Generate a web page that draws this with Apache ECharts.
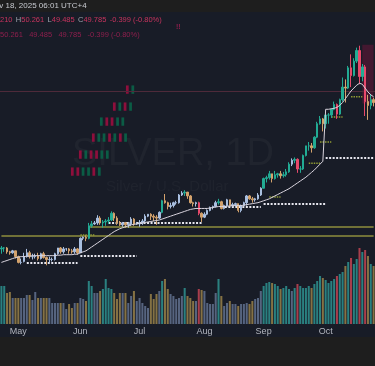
<!DOCTYPE html>
<html><head><meta charset="utf-8">
<script src="https://cdn.jsdelivr.net/npm/echarts@6/dist/echarts.min.js"></script>
<style>html,body{margin:0;padding:0;background:#1e1e1e;}#c{width:375px;height:366px;}</style>
</head><body><div id="c"></div><script>
// ---- data (XAGUSD daily) ----
const startDate = '2025-04-23';
const barCount = 133;
const opens = [33.4,33.5,33.5,33.1,33.0,33.2,32.6,32.0,32.1,32.6,33.0,32.6,32.6,32.7,32.4,32.9,32.5,32.3,32.3,32.3,32.9,33.5,33.1,33.4,33.4,33.2,33.1,33.4,
33.0,34.5,34.6,34.5,35.8,36.0,36.1,36.6,36.1,36.2,36.3,36.4,37.1,36.6,36.1,35.9,36.1,35.9,36.0,36.5,36.0,
36.0,36.1,36.3,36.8,37.0,36.8,36.7,36.6,37.2,38.4,38.2,37.8,37.9,38.2,38.2,39.0,39.2,39.3,38.9,38.2,38.1,38.2,37.1,
36.7,37.0,37.4,37.7,37.8,38.2,38.3,37.6,37.9,38.5,37.9,38.0,38.1,37.4,37.9,38.2,38.9,38.6,38.5,38.6,39.0,
39.7,40.7,40.8,41.2,40.7,41.1,41.2,41.0,41.1,41.4,42.2,42.6,42.7,41.7,41.7,43.1,44.1,44.1,43.9,45.0,46.4,46.9,
46.4,47.3,47.3,47.9,48.4,47.4,48.9,50.2,50.1,52.2,51.4,52.9,54.0,51.3,52.3,48.7,48.3,48.9];
const highs = [33.7,33.6,33.6,33.2,33.3,33.2,32.7,32.4,33.0,33.4,33.2,32.9,32.9,33.0,33.0,33.1,32.6,32.6,32.5,33.0,33.5,33.6,33.6,33.5,33.5,33.4,33.6,33.5,
34.6,34.7,34.8,36.1,36.3,36.3,36.9,36.8,36.4,36.5,36.7,37.3,37.2,36.8,36.3,36.2,36.2,36.2,36.7,36.6,36.2,
36.4,36.5,37.0,37.0,37.1,37.0,36.9,37.3,38.5,39.1,38.3,38.2,38.3,38.4,39.1,39.4,39.5,39.3,39.0,38.3,38.3,38.3,37.2,
37.2,37.5,37.8,37.9,38.4,38.6,38.4,38.0,38.6,38.5,38.2,38.2,38.1,38.0,38.3,39.0,39.0,38.8,38.7,39.2,39.8,
40.8,41.0,41.5,41.2,41.5,41.3,41.5,41.4,41.7,42.4,42.8,42.9,42.8,42.0,43.2,44.1,44.5,44.4,45.1,46.6,47.2,47.0,
47.3,47.5,48.0,48.7,48.5,49.0,51.2,51.0,52.4,53.6,53.2,54.3,54.5,52.6,52.5,49.4,49.5,49.1];
const lows = [32.9,33.1,32.9,32.8,32.9,32.4,31.9,31.8,32.0,32.5,32.4,32.3,32.4,32.2,32.3,32.4,31.7,31.9,32.1,32.2,32.8,32.9,32.9,33.2,32.9,32.9,32.9,32.8,
33.0,34.3,34.2,34.4,35.6,35.9,35.9,35.9,35.6,35.8,36.0,36.3,36.3,35.9,35.8,35.7,35.6,35.6,35.8,35.8,35.9,
35.7,35.9,36.2,36.7,36.4,36.3,35.9,36.5,37.1,38.1,37.5,37.6,37.7,38.0,38.1,38.9,38.9,38.6,38.1,37.8,37.8,36.9,36.2,
36.6,36.9,37.3,37.5,37.7,38.0,37.5,37.5,37.8,37.8,37.8,37.8,37.2,37.2,37.8,37.9,38.5,38.2,38.3,38.5,38.9,
39.7,40.3,40.6,40.3,40.6,40.8,40.7,40.8,40.9,41.3,42.0,42.3,41.3,41.3,41.6,43.0,43.6,43.4,43.8,44.9,46.3,45.6,
45.9,46.4,47.0,47.8,46.9,47.3,48.7,48.6,50.0,50.2,51.3,52.7,50.5,50.8,47.2,46.8,47.9,48.2];
const closes = [33.5,33.5,33.1,33.0,33.2,32.6,32.0,32.0,32.6,33.0,32.6,32.6,32.7,32.4,32.9,32.5,32.3,32.3,32.3,32.9,33.5,33.1,33.4,33.4,33.2,33.1,33.4,33.0,
34.5,34.6,34.5,35.8,36.0,36.1,36.6,36.1,36.2,36.3,36.4,37.1,36.6,36.1,35.9,36.1,35.9,36.0,36.5,36.0,36.0,
36.1,36.3,36.8,37.0,36.8,36.7,36.6,37.2,38.4,38.2,37.8,37.9,38.2,38.2,39.0,39.2,39.3,38.9,38.2,38.1,38.2,37.1,36.7,
37.0,37.4,37.7,37.8,38.2,38.3,37.6,37.9,38.5,37.9,38.0,38.1,37.4,37.9,38.2,38.9,38.6,38.5,38.6,39.0,39.7,
40.7,40.8,41.2,40.7,41.1,41.2,41.0,41.1,41.4,42.2,42.6,42.7,41.7,41.7,43.1,44.1,44.1,43.9,45.0,46.4,46.9,46.4,
47.3,47.3,47.9,48.4,47.4,48.9,50.2,50.1,52.2,51.4,52.9,54.0,51.3,52.3,48.7,48.3,48.9,48.6];
const volumes = [38,38,31,32,26,26,26,26,26,29,29,24,32,26,26,26,26,26,21,21,21,21,21,15,20,16,21,21,
26,25,23,43,38,31,31,33,35,45,36,35,31,25,31,31,31,21,28,33,23,
26,21,18,16,30,25,30,33,43,45,35,30,28,25,26,28,36,28,26,23,23,35,34,
33,21,20,20,31,45,28,18,21,23,20,20,18,20,20,21,20,23,25,26,33,
38,41,42,41,40,38,35,36,38,35,33,36,40,38,36,36,38,36,40,43,48,46,
44,41,43,45,48,50,52,58,62,66,60,65,76,72,74,68,60,58];
const trailLine = [32.0,32.1,32.2,32.3,32.4,32.5,32.55,32.6,32.6,32.65,32.65,32.7,32.7,32.7,32.7,32.7,32.7,32.7,32.7,32.7,32.75,32.75,32.8,32.8,32.8,32.8,32.85,32.85,
33.0,33.1,33.2,33.4,33.6,33.8,34.0,34.2,34.4,34.6,34.8,35.0,35.2,35.35,35.5,35.6,35.7,35.8,35.9,35.95,36.0,
36.05,36.1,36.15,36.2,36.25,36.3,36.35,36.4,36.5,36.6,36.7,36.8,36.9,37.0,37.1,37.2,37.3,37.4,37.5,37.55,37.6,37.6,37.6,
37.6,37.6,37.65,37.7,37.75,37.8,37.8,37.8,37.85,37.85,37.9,37.9,37.9,37.9,37.95,38.0,38.05,38.1,38.15,38.2,38.3,
38.4,38.5,38.6,38.75,38.9,39.05,39.2,39.35,39.5,39.65,39.85,40.05,40.25,40.45,40.65,40.85,41.1,41.35,41.6,41.9,42.2,42.5,
47.9,47.9,47.95,48.0,48.1,48.3,48.6,49.0,49.4,49.8,50.1,50.4,50.6,50.5,50.1,49.7,49.4,49.2];
// dotted support levels: [startIndex, endIndex, price]
const dottedLevels = [[9,27,31.94],[28,48,32.67],[38,71,36.09],[78,92,37.75],[93,115,38.07],[115,132,42.84]];
// small olive pivot tags: [startIndex, endIndex, price]
const pivotTags = [[28,33,34.85],[95,99,38.8],[109,113,42.3],[113,117,44.5],[117,121,47.1],[124,128,49.2]];
// solid horizontal levels: [startIndex, price]
const solidLevels = [[31,35.68],[0,34.74]];
const lastPrice = 49.785;
const zoneBox = [128,132,48.5,54.6];
const monthNames = ['Jan','Feb','Mar','Apr','May','Jun','Jul','Aug','Sep','Oct','Nov','Dec'];

// ---- categories (weekdays) ----
const dates = [];
{ let d = new Date(startDate + 'T00:00:00Z');
  while (dates.length < barCount) { const w = d.getUTCDay(); if (w !== 0 && w !== 6) dates.push(d.toISOString().slice(0,10)); d = new Date(d.getTime() + 86400000); } }
const isMonthStart = i => i > 0 && dates[i].slice(5,7) !== dates[i-1].slice(5,7);

function candleColor(i){
  const up = closes[i] >= opens[i];
  if (up) return volumes[i] >= 35 ? '#22ab94' : '#a9bfe0';
  return (opens[i]-closes[i]) > 0.8 ? '#e8496b' : '#d3a26c';
}
function volColor(i){
  const up = closes[i] >= opens[i];
  if (up) return volumes[i] >= 35 ? '#2a8080' : '#56647f';
  return (opens[i]-closes[i]) > 0.8 ? '#a83e4c' : '#857244';
}
const candleData = dates.map((d,i)=>({value:[opens[i],closes[i],lows[i],highs[i]], itemStyle:{color:candleColor(i),color0:candleColor(i),borderColor:candleColor(i),borderColor0:candleColor(i)}}));
const volData = dates.map((d,i)=>({value:volumes[i], itemStyle:{color:volColor(i)}}));

const segSeries = (arr, style, z) => arr.map(l=>({type:'line',xAxisIndex:0,yAxisIndex:0,symbol:'none',silent:true,z:z,
  data:[[l[0],l[2]],[l[1],l[2]]], lineStyle:style}));
const solidSeries = solidLevels.map(l=>({type:'line',xAxisIndex:0,yAxisIndex:0,symbol:'none',silent:true,z:3,
  data:[[l[0],l[1]],[barCount-1,l[1]]], lineStyle:{color:'#8e8e3e',width:1.5}}));

// decorative red/green glyph rows (indicator overlay)
const R = '#8e0f3c', G = '#0b5c45';
const glyphRow = (x,y,pattern) => ({type:'text',left:x,top:y,z:-4,style:{rich:{r:{fill:R,font:'7px "DejaVu Sans"'},g:{fill:G,font:'7px "DejaVu Sans"'}},
  text: pattern.split('').map(c=>c==='r'?'{r|▌}':'{g|▌}').join('')}});

const chart = echarts.init(document.getElementById('c'));
chart.setOption({
  backgroundColor:'#1e1e1e',
  animation:false,
  graphic:[
    {type:'rect',shape:{x:0,y:12,width:375,height:325},style:{fill:'#181c27'},z:-10},
    {type:'text',left:-11,top:2,style:{text:'Nov 18, 2025 06:01 UTC+4',fill:'#c8cad0',font:'8px "Liberation Sans"'},z:-5},
    {type:'text',left:0,top:14,style:{rich:{g:{fill:'#9ea2ad',font:'7.5px "Liberation Sans"'},r:{fill:'#c8345e',font:'7.5px "Liberation Sans"'}},
      text:'{r|210} {g|H}{r|50.261} {g|L}{r|49.485} {g|C}{r|49.785} {r|-0.399 (-0.80%)}'},z:-5},
    {type:'text',left:0,top:31,style:{text:'50.261   49.485   49.785   -0.399 (-0.80%)',fill:'#8e1f4d',font:'7.5px "Liberation Sans"'},z:-5},
    {type:'text',left:176,top:24,style:{text:'!!',fill:'#8e1f4d',font:'bold 7px "Liberation Sans"'},z:-5},
    {type:'text',left:72,top:136,style:{text:'SILVER, 1D',fill:'rgba(255,255,255,0.035)',font:'38px "Liberation Sans"'},z:-5},
    {type:'text',left:106,top:179,style:{text:'Silver / U.S. Dollar',fill:'rgba(255,255,255,0.03)',font:'15px "Liberation Sans"'},z:-5},
    glyphRow(126,87,'rg'),
    glyphRow(113,104,'rgrg'),
    glyphRow(100,119,'grrgg'),
    glyphRow(92,135,'rggrgrg'),
    glyphRow(79,152,'rgrrgg'),
    glyphRow(71,169,'rrggrg')
  ],
  grid:[{left:0,right:0,top:12,height:313},{left:0,right:0,top:240,height:84}],
  xAxis:[
    {type:'category',data:dates,gridIndex:0,show:false,boundaryGap:true},
    {type:'category',data:dates,gridIndex:1,boundaryGap:true,axisLine:{show:false},axisTick:{show:false},splitLine:{show:false},
     axisLabel:{color:'#b2b5be',fontSize:9,margin:3,fontFamily:'Liberation Sans',interval:(i)=>isMonthStart(i),formatter:(v)=>monthNames[+v.slice(5,7)-1]}}
  ],
  yAxis:[
    {type:'value',gridIndex:0,min:25.5,max:58,show:false,scale:true},
    {type:'value',gridIndex:1,min:0,max:84,show:false}
  ],
  series:[
    {type:'bar',xAxisIndex:1,yAxisIndex:1,data:volData,barWidth:'72%',z:1,silent:true},
    {type:'candlestick',xAxisIndex:0,yAxisIndex:0,data:candleData,barWidth:'70%',z:5,
     markLine:{silent:true,symbol:'none',label:{show:false},data:[{yAxis:lastPrice}],lineStyle:{color:'#4e2a3a',width:1,type:'solid'}},
     markArea:{silent:true,itemStyle:{color:'rgba(120,20,60,0.45)'},data:[[{xAxis:dates[zoneBox[0]],yAxis:zoneBox[2]},{xAxis:dates[zoneBox[1]],yAxis:zoneBox[3]}]]}},
    {type:'line',xAxisIndex:0,yAxisIndex:0,data:trailLine,symbol:'none',z:6,lineStyle:{color:'#d9d4de',width:1}},
    ...solidSeries,
    ...segSeries(dottedLevels,{color:'#e6e6ee',width:2,type:[2,1.5]},4),
    ...segSeries(pivotTags,{color:'#8f9a34',width:1.5,type:[1.5,1]},4)
  ]
});
</script></body></html>
